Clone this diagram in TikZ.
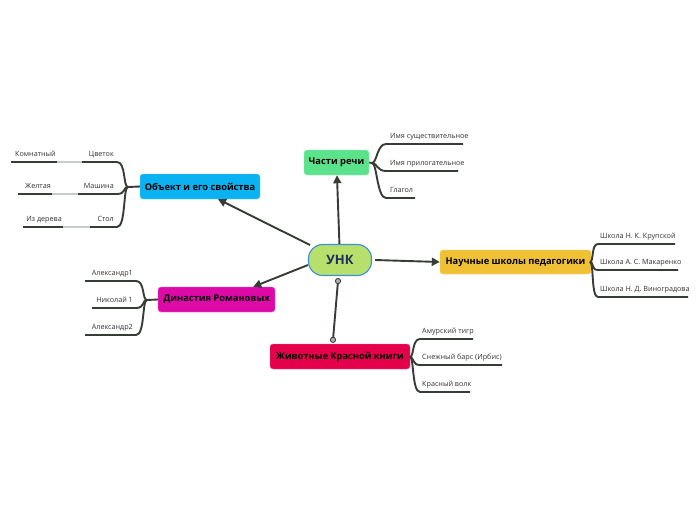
\documentclass[tikz,border=0pt]{standalone}
\usepackage{fontspec}
\setmainfont{Open Sans}
\usetikzlibrary{arrows.meta,calc}
\definecolor{lnc}{HTML}{363D36}
\definecolor{lgray}{HTML}{C8CCC8}
\definecolor{txt}{HTML}{333333}
\definecolor{cobj}{HTML}{0AB2F2}
\definecolor{cparts}{HTML}{5BE38C}
\definecolor{csci}{HTML}{F0C135}
\definecolor{cdyn}{HTML}{DD0AA8}
\definecolor{canim}{HTML}{E5004B}
\definecolor{cunk}{HTML}{B6E06B}
\definecolor{cunkb}{HTML}{3D8FD9}
\definecolor{cunkt}{HTML}{1F2D5C}
\tikzset{
  topic/.style={rounded corners=3pt, minimum height=25pt, inner sep=0pt,
    font=\bfseries\fontsize{9.3}{11}\selectfont, text=black},
  lbl/.style={font=\fontsize{7.2}{8}\selectfont, text=txt, inner sep=0pt},
  br/.style={draw=lnc, line width=1.9pt},
  lt/.style={draw=lgray, line width=1.9pt},
  arr/.style={br, -{Triangle[length=8pt,width=8pt]}},
  endc/.style={draw=lnc, fill=gray!60, line width=0.9pt}
}
\begin{document}
\begin{tikzpicture}[x=1pt,y=-1pt]
\useasboundingbox (0,0) rectangle (696,520);
\fill[white] (0,0) rectangle (696,520);

% central
\node[draw=cunkb, line width=1.1pt, fill=cunk, rounded corners=14pt,
  minimum width=63pt, minimum height=31pt, inner sep=0pt,
  font=\bfseries\fontsize{13}{15}\selectfont, text=cunkt] (unk) at (340,260) {УНК};

% topics
\node[topic, fill=cobj, draw=cobj!60, minimum width=120pt] (obj) at (200,186.5) {Объект и его свойства};
\node[topic, fill=cparts, draw=cparts!60, minimum width=65pt] (parts) at (336.5,162.5) {Части речи};
\node[topic, fill=csci, draw=csci!70, minimum width=151pt, minimum height=24pt] (sci) at (515.5,262) {Научные школы педагогики};
\node[topic, fill=cdyn, draw=cdyn!60, minimum width=117pt] (dyn) at (216.5,299.5) {Династия Романовых};
\node[topic, fill=canim, draw=canim!60, minimum width=140pt] (anim) at (340,356.5) {Животные Красной книги};

% main connectors
\draw[arr] ([yshift=15pt,xshift=-30pt]unk.center) -- ([xshift=18pt]obj.south);
\draw[arr] (unk) -- (parts);
\draw[arr] ([xshift=3pt]unk.east) -- (sci.west);
\draw[arr] ([yshift=-5pt]unk.west) -- ([xshift=-22pt]dyn.north east);
\coordinate (a1) at ([xshift=-2pt,yshift=-5pt]unk.south);
\coordinate (a2) at ([xshift=-7pt,yshift=4pt]anim.north);
\draw[br] (a1) -- (a2);
\draw[endc] (a1) circle (2.6pt);
\draw[endc] (a2) circle (2.6pt);

% ---- Объект и его свойства (left)
\coordinate (jo) at (128,187);
\draw[br] (obj.west) -- (jo);
\foreach \y/\a/\b/\c/\ch/\gc in {162/82/57/11/Цветок/Комнатный, 194/78/52/18/Машина/Желтая, 227/90/63/23/Стол/Из дерева}{
  \draw[br] (jo) .. controls (123,187) and (126,\y) .. (117,\y) -- (\a,\y);
  \draw[lt] (\a,\y) -- (\b,\y);
  \draw[br] (\b,\y) -- (\c,\y);
  \node[lbl, anchor=base east] at (114,\y-6) {\ch};
  \node[lbl, anchor=base east] at (\b-1,\y-6) {\gc};
}

% ---- Части речи (right)
\coordinate (jp) at (372,163);
\draw[br] (parts.east) -- (jp);
\foreach \y/\e/\t in {144/463/Имя существительное, 171/458/Имя прилогательное, 198/415/Глагол}{
  \draw[br] (jp) .. controls (377,163) and (377,\y) .. (386,\y) -- (\e,\y);
  \node[lbl, anchor=base west] at (390,\y-6) {\t};
}

% ---- Научные школы педагогики
\coordinate (js) at (590,262);
\foreach \y/\e/\t in {244/675/Школа Н. К. Крупской, 270/678/Школа А. С. Макаренко, 297/688/Школа Н. Д. Виноградова}{
  \draw[br] (js) .. controls (594,262) and (591,\y) .. (598,\y) -- (\e,\y);
  \node[lbl, anchor=base west] at (600,\y-6) {\t};
}

% ---- Династия Романовых (left)
\coordinate (jd) at (147,300);
\draw[br] (dyn.west) -- (jd);
\foreach \y/\e/\t in {281/85/Александр1, 308/92/Николай 1, 335/85/Александр2}{
  \draw[br] (jd) .. controls (142,300) and (145,\y) .. (136,\y) -- (\e,\y);
  \node[lbl, anchor=base east] at (133,\y-6) {\t};
}

% ---- Животные Красной книги (right)
\coordinate (ja) at (410,357);
\foreach \y/\e/\t in {339/473/Амурский тигр, 365/502/Снежный барс (Ирбис), 392/470/Красный волк}{
  \draw[br] (ja) .. controls (414,357) and (412,\y) .. (420,\y) -- (\e,\y);
  \node[lbl, anchor=base west] at (422,\y-6) {\t};
}
\end{tikzpicture}
\end{document}
